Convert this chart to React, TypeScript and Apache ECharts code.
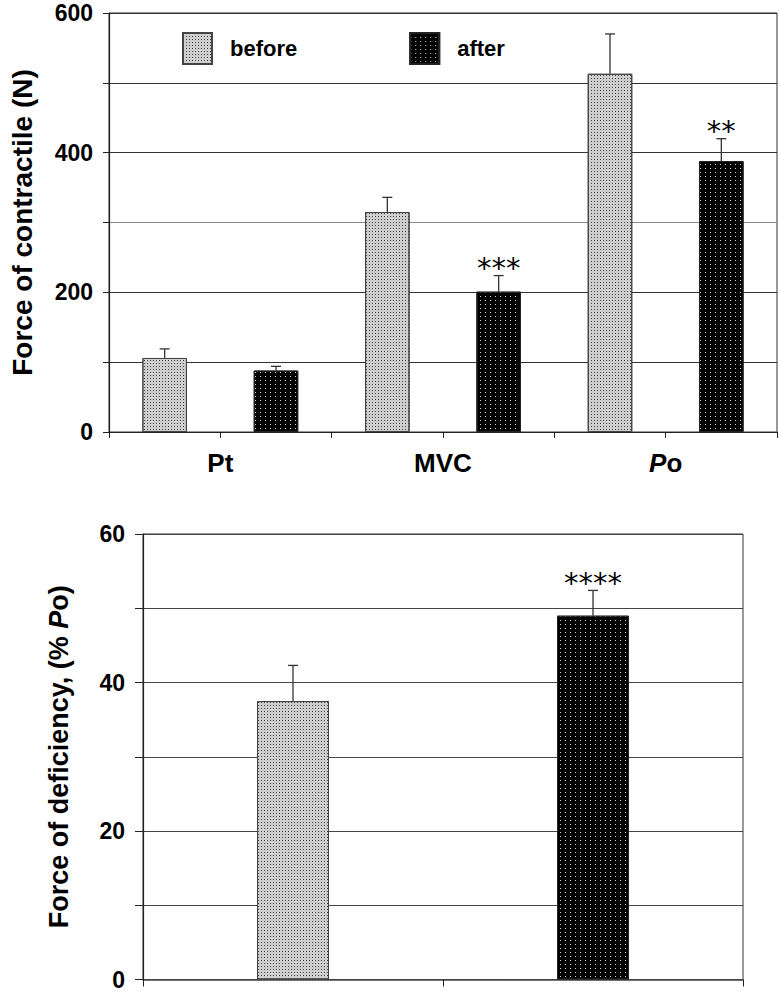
import React, { useEffect, useRef } from "react";
import * as echarts from "echarts";

const categories = ["Pt", "MVC", "Po"];
const beforeValues = [106, 315, 513];
const beforeErrors = [13, 21, 57];
const afterValues = [88, 201, 388];
const afterErrors = [6, 23, 32];
const afterStars = ["", "***", "**"];
const topTickLabels = [0, 200, 400, 600];

const deficiencyCategories = ["before", "after"];
const deficiencyValues = [37.5, 49];
const deficiencyErrors = [4.8, 3.4];
const deficiencyStars = ["", "****"];
const bottomTickLabels = [0, 20, 40, 60];

const FONT = "Liberation Sans, Arial, sans-serif";

const beforeStyle = {
  color: "#cfcfcf",
  borderColor: "#444",
  borderWidth: 1,
  decal: {
    symbol: "rect",
    symbolSize: 1,
    color: "rgba(30,30,30,0.8)",
    dashArrayX: [1, 2],
    dashArrayY: [1, 2],
    rotation: 0,
  },
};
const afterStyle = {
  color: "#000",
  borderColor: "#222",
  borderWidth: 1,
  decal: {
    symbol: "rect",
    symbolSize: 1,
    color: "rgba(235,235,235,0.9)",
    dashArrayX: [1, 4],
    dashArrayY: [1, 3],
    rotation: 0,
  },
};

function makeErrorRender(values: number[], errors: number[], stars: string[], frac: number) {
  return (params: any, api: any) => {
    const i = params.dataIndex;
    const base = api.coord([i, values[i]]);
    const top = api.coord([i, values[i] + errors[i]]);
    const band = api.size([1, 0])[0];
    const x = base[0] + band * frac;
    const children: any[] = [
      {
        type: "line",
        shape: { x1: x, y1: base[1], x2: x, y2: top[1] },
        style: { stroke: "#333", lineWidth: 1.3 },
      },
      {
        type: "line",
        shape: { x1: x - 5, y1: top[1], x2: x + 5, y2: top[1] },
        style: { stroke: "#333", lineWidth: 1.3 },
      },
    ];
    if (stars[i]) {
      children.push({
        type: "text",
        x: x,
        y: top[1] + 7,
        style: {
          text: stars[i],
          fontSize: 29,
          fontFamily: "DejaVu Sans",
          align: "center",
          verticalAlign: "bottom",
          fill: "#000",
        },
      });
    }
    return { type: "group", children };
  };
}

export default function App() {
  const ref = useRef<HTMLDivElement>(null);
  useEffect(() => {
    document.body.style.margin = "0";
    const chart = echarts.init(ref.current!, null, { renderer: "svg" });
    const option: any = {
      animation: false,
      textStyle: { fontFamily: FONT },
      legend: {
        data: ["before", "after"],
        left: 182,
        top: 32,
        padding: 0,
        itemWidth: 29,
        itemHeight: 31,
        itemGap: 112,
        icon: "rect",
        selectedMode: false,
        textStyle: {
          fontSize: 22,
          fontWeight: "bold",
          color: "#000",
          fontFamily: FONT,
          padding: [0, 0, 0, 13],
        },
      },
      grid: [
        { left: 106, top: 13, width: 671, height: 419, show: true, borderColor: "#333", borderWidth: 1 },
        { left: 143, top: 534, width: 600, height: 446, show: true, borderColor: "#333", borderWidth: 1 },
      ],
      xAxis: [
        {
          type: "category",
          gridIndex: 0,
          data: categories,
          position: "bottom",
          axisLine: { lineStyle: { color: "#222", width: 1.2 } },
          axisTick: { show: false },
          axisLabel: {
            margin: 18,
            formatter: (v: string) => (v === "Po" ? "{i|P}{n|o}" : "{n|" + v + "}"),
            rich: {
              n: { fontSize: 26, fontWeight: "bold", color: "#000", fontFamily: FONT },
              i: { fontSize: 26, fontWeight: "bold", fontStyle: "italic", color: "#000", fontFamily: FONT },
            },
          },
        },
        {
          type: "category",
          gridIndex: 0,
          data: ["a", "b", "c", "d", "e", "f"],
          position: "bottom",
          axisLine: { show: false },
          axisLabel: { show: false },
          axisTick: { show: true, length: 6, lineStyle: { color: "#222" } },
          splitLine: { show: false },
        },
        {
          type: "category",
          gridIndex: 1,
          data: deficiencyCategories,
          position: "bottom",
          axisLine: { lineStyle: { color: "#444", width: 1.5 } },
          axisTick: { show: true, length: 7, lineStyle: { color: "#222" } },
          axisLabel: { show: false },
        },
      ],
      yAxis: [
        {
          type: "value",
          gridIndex: 0,
          min: 0,
          max: 600,
          interval: 100,
          name: "Force of contractile (N)",
          nameLocation: "middle",
          nameRotate: 90,
          nameGap: 73,
          nameTextStyle: { fontSize: 28, fontWeight: "bold", color: "#000", fontFamily: FONT },
          axisLine: { show: true, lineStyle: { color: "#222", width: 1.2 } },
          axisTick: { show: true, length: 6, lineStyle: { color: "#222" } },
          axisLabel: {
            margin: 16,
            fontSize: 23,
            fontWeight: "bold",
            color: "#000",
            fontFamily: FONT,
            formatter: (v: number) => (topTickLabels.includes(v) ? String(v) : ""),
          },
          splitLine: {
            show: true,
            lineStyle: { color: ["#333", "#333", "#333", "#888", "#333", "#333", "#333"], width: 1.2 },
          },
        },
        {
          type: "value",
          gridIndex: 1,
          min: 0,
          max: 60,
          interval: 10,
          name: "{b|Force of deficiency, (% }{i|P}{b|o)}",
          nameLocation: "middle",
          nameRotate: 90,
          nameGap: 71,
          nameTextStyle: {
            fontSize: 27,
            fontWeight: "bold",
            color: "#000",
            fontFamily: FONT,
            rich: {
              b: { fontSize: 27, fontWeight: "bold", color: "#000", fontFamily: FONT },
              i: { fontSize: 27, fontWeight: "bold", fontStyle: "italic", color: "#000", fontFamily: FONT },
            },
          },
          axisLine: { show: true, lineStyle: { color: "#222", width: 1.2 } },
          axisTick: { show: true, length: 8, lineStyle: { color: "#222" } },
          axisLabel: {
            margin: 18,
            fontSize: 23,
            fontWeight: "bold",
            color: "#000",
            fontFamily: FONT,
            formatter: (v: number) => (bottomTickLabels.includes(v) ? String(v) : ""),
          },
          splitLine: { show: true, lineStyle: { color: "#444", width: 1.2 } },
        },
      ],
      series: [
        {
          name: "before",
          type: "bar",
          xAxisIndex: 0,
          yAxisIndex: 0,
          data: beforeValues,
          barWidth: "20%",
          barGap: "150%",
          itemStyle: beforeStyle,
        },
        {
          name: "after",
          type: "bar",
          xAxisIndex: 0,
          yAxisIndex: 0,
          data: afterValues,
          barWidth: "20%",
          barGap: "150%",
          itemStyle: afterStyle,
        },
        {
          name: "beforeErr",
          type: "custom",
          xAxisIndex: 0,
          yAxisIndex: 0,
          data: beforeValues.map((v, i) => [i, v + beforeErrors[i]]),
          renderItem: makeErrorRender(beforeValues, beforeErrors, ["", "", ""], -0.25),
          z: 5,
        },
        {
          name: "afterErr",
          type: "custom",
          xAxisIndex: 0,
          yAxisIndex: 0,
          data: afterValues.map((v, i) => [i, v + afterErrors[i]]),
          renderItem: makeErrorRender(afterValues, afterErrors, afterStars, 0.25),
          z: 5,
        },
        {
          name: "deficiency",
          type: "bar",
          xAxisIndex: 2,
          yAxisIndex: 1,
          barWidth: "24%",
          data: deficiencyValues.map((v, i) => ({ value: v, itemStyle: i === 0 ? beforeStyle : afterStyle })),
        },
        {
          name: "deficiencyErr",
          type: "custom",
          xAxisIndex: 2,
          yAxisIndex: 1,
          data: deficiencyValues.map((v, i) => [i, v + deficiencyErrors[i]]),
          renderItem: makeErrorRender(deficiencyValues, deficiencyErrors, deficiencyStars, 0),
          z: 5,
        },
      ],
    };
    chart.setOption(option);
    return () => chart.dispose();
  }, []);
  return <div ref={ref} style={{ width: 779, height: 991 }} />;
}
